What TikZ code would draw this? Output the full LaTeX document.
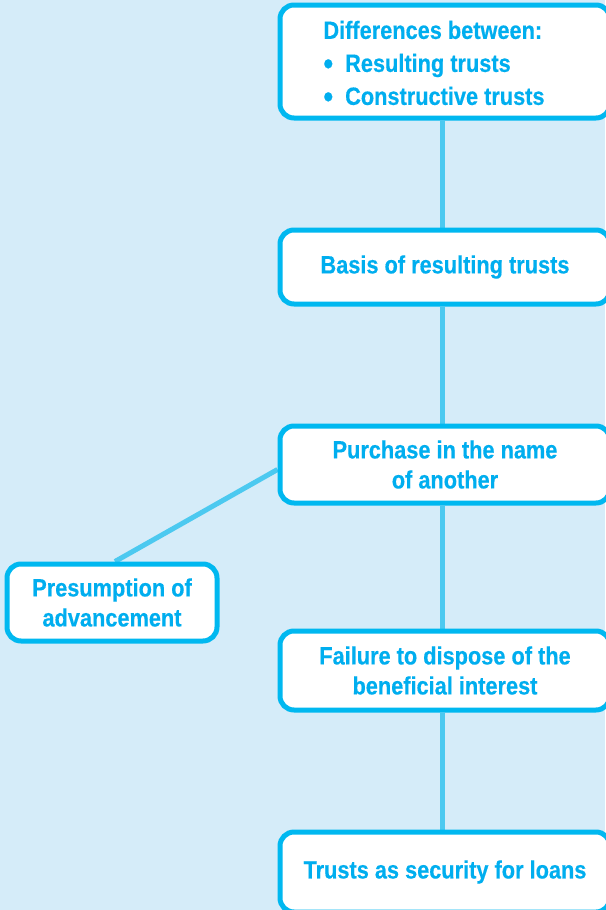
\documentclass[tikz,border=0pt]{standalone}
\usepackage{fontspec}
\setmainfont{Liberation Sans}[FakeStretch=0.87, BoldFeatures={FakeBold=0.4}]
\usetikzlibrary{backgrounds}
\definecolor{bgblue}{HTML}{D5ECF9}
\definecolor{boxborder}{HTML}{00B8F0}
\definecolor{txtblue}{HTML}{00AEEF}
\definecolor{linkblue}{HTML}{4CC9F0}
\tikzset{
  box/.style={draw=boxborder, line width=5pt, fill=white, rounded corners=14pt,
    font=\fontsize{25}{30}\selectfont\bfseries, text=txtblue, align=center, inner sep=0pt},
  link/.style={draw=linkblue, line width=5pt}
}
\newcommand{\bigbul}{\raisebox{-2.5pt}{\fontsize{32}{30}\selectfont\textbullet}}
\begin{document}
\begin{tikzpicture}[x=1pt,y=1pt]
\useasboundingbox (0,0) rectangle (605,-910);
\node[box, minimum width=330, minimum height=113] (b1) at (445,-61.5)
  {\raisebox{-4pt}[\height][\depth]{\fontsize{25}{32}\selectfont\begin{tabular}{@{}l@{}}Differences between:\\[1pt]
   \bigbul\hspace{12pt}Resulting trusts\\[1pt]
   \bigbul\hspace{12pt}Constructive trusts\end{tabular}}\hspace*{22pt}};
\node[box, minimum width=330, minimum height=74] (b2) at (445,-267) {Basis of resulting trusts};
\node[box, minimum width=330, minimum height=77] (b3) at (445,-464.5) {Purchase in the name\\of another};
\node[box, minimum width=210, minimum height=77] (pa) at (112,-602.5) {Presumption of\\advancement};
\node[box, minimum width=330, minimum height=79] (b4) at (445,-670.5) {Failure to dispose of the\\beneficial interest};
\node[box, minimum width=330, minimum height=80] (b5) at (445,-872) {Trusts as security for loans};
\begin{scope}[on background layer]
\fill[bgblue] (0,0) rectangle (605,-910);
\draw[link] ([xshift=-3pt]b1.south) -- ([xshift=-3pt]b2.north);
\draw[link] ([xshift=-3pt]b2.south) -- ([xshift=-3pt]b3.north);
\draw[link] ([xshift=-3pt]b3.south) -- ([xshift=-3pt]b4.north);
\draw[link] ([xshift=-3pt]b4.south) -- ([xshift=-3pt]b5.north);
\draw[link] ([yshift=-5pt]b3.west) -- ([xshift=3pt]pa.north);
\end{scope}
\end{tikzpicture}
\end{document}
